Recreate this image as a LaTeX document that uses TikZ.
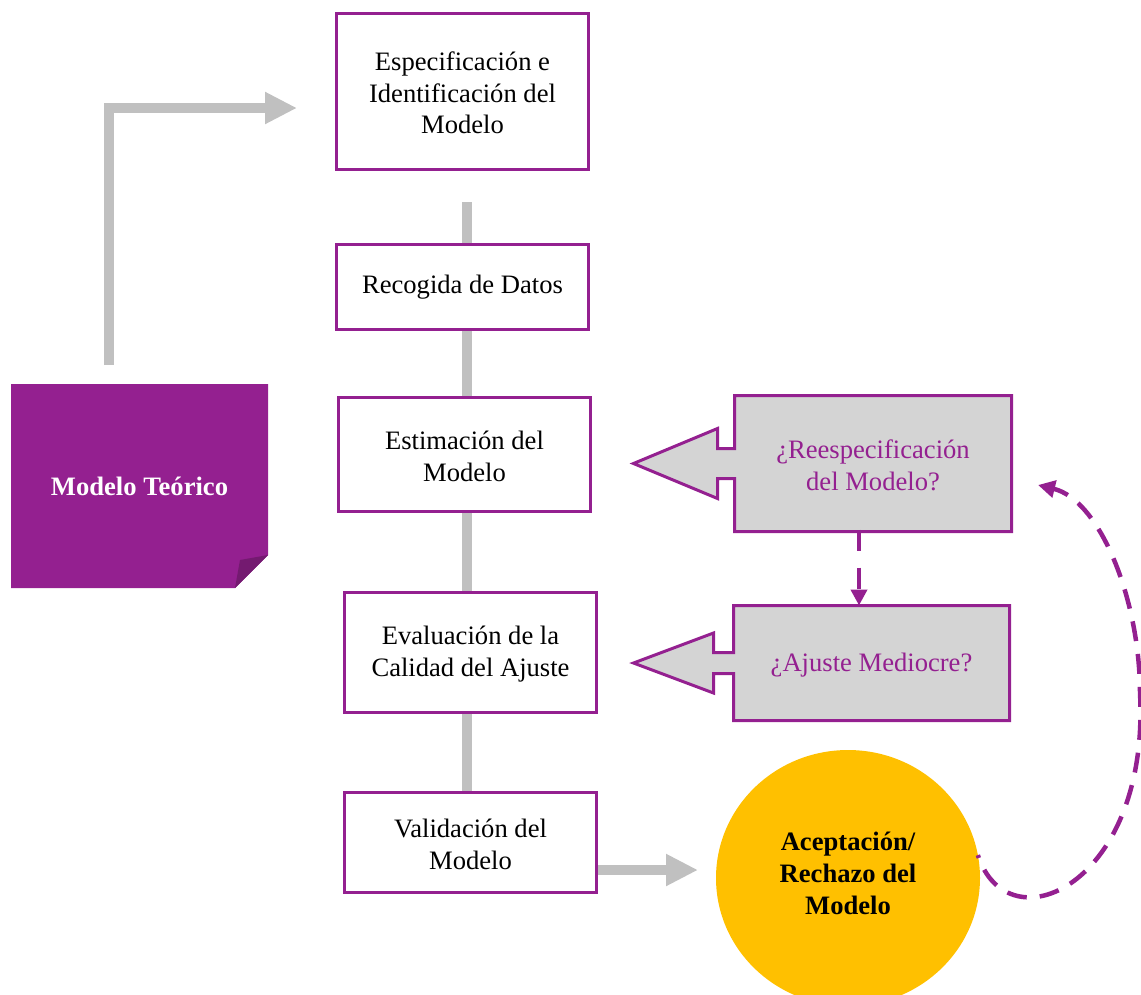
\documentclass[tikz,border=0pt]{standalone}
\usepackage{fontspec}
\setmainfont{Liberation Serif}
\usetikzlibrary{arrows.meta,calc,shapes.geometric}

\definecolor{plum}{RGB}{148,32,144}
\definecolor{plumdark}{RGB}{116,26,112}
\definecolor{flowgray}{RGB}{192,192,192}
\definecolor{calloutgray}{RGB}{212,212,212}
\definecolor{amber}{RGB}{255,192,0}

\begin{document}
\begin{tikzpicture}[x=1pt,y=-1pt,
  every node/.style={font=\fontsize{26.6}{31.5}\selectfont, align=center,
                     inner sep=0pt, outer sep=0pt},
  stage/.style={draw=plum, line width=3pt, fill=white, minimum width=252pt},
  flow/.style={draw=flowgray, line width=10pt},
  flowtip/.style={flow, line join=miter, -{Triangle[length=32pt,width=30pt]}},
  callout/.style={draw=plum, line width=3pt, fill=calloutgray, line join=miter},
  calltext/.style={text=plum},
  loopback/.style={draw=plum, line width=4.5pt, dash pattern=on 20pt off 13pt,
                   -{Triangle[length=17pt,width=17pt]}},
  shortdash/.style={draw=plum, line width=4.5pt, dash pattern=on 21pt off 17pt,
                   -{Triangle[length=16pt,width=16pt]}}
]
\useasboundingbox (0,0) rectangle (1141,994);
\clip (0,0) rectangle (1141,994);

% grey spine behind the chain of stages
\coordinate (spinetop) at (467,202);
\coordinate (vbottom) at (467,791);
\draw[flow] (spinetop) -- (vbottom);

% process stages
\node[stage, minimum height=156pt] (espec) at (462.5,91.5)
  {\strut Especificación e\\Identificación del\\Modelo};
\node[stage, minimum height=85pt] (recog) at (462.5,287) {\strut Recogida de Datos};
\node[stage, minimum height=114pt] (estim) at (464.5,454.5) {\strut Estimación del\\Modelo};
\node[stage, minimum height=120pt] (evalu) at (470.5,652.5)
  {\strut Evaluación de la\\Calidad del Ajuste};
\node[stage, minimum height=100pt] (valid) at (470.5,842.5) {\strut Validación del\\Modelo};

% theoretical model note with a folded corner
\node[minimum width=257pt, minimum height=204pt] (teo) at (139.5,486) {};
\fill[plum] (teo.north west) -- (teo.north east) -- ($(teo.south east)+(0,-33)$)
  -- ($(teo.south east)+(-33,0)$) -- (teo.south west) -- cycle;
\fill[plumdark] ($(teo.south east)+(0,-33)$) -- ($(teo.south east)+(-28,-28)$)
  -- ($(teo.south east)+(-33,0)$) -- cycle;
\node[text=white, font=\fontsize{26.6}{31.5}\selectfont\bfseries] (teotext) at (teo)
  {Modelo Teórico};

% L-shaped arrow from the note to the first stage
\coordinate (lfoot) at (109,365);
\coordinate (ltip) at (297,108);
\draw[flowtip] (lfoot) |- (ltip);

% callout: re-specification
\node[minimum width=277pt, minimum height=136pt] (reespbox) at (873,463.5) {};
\path[callout] (reespbox.north west) -- (reespbox.north east) -- (reespbox.south east)
  -- (reespbox.south west) -- ($(reespbox.west)+(0,15)$) -- ++(-17,0) -- ++(0,20)
  -- ($(reespbox.west)+(-101,0)$) -- ($(reespbox.west)+(-17,-35)$) -- ++(0,20)
  -- ($(reespbox.west)+(0,-15)$) -- cycle;
\node[calltext] (reesp) at ([yshift=-2pt]reespbox) {¿Reespecificación\\del Modelo?};

% callout: poor fit
\node[minimum width=276pt, minimum height=115pt] (ajustebox) at (871.5,663) {};
\path[callout] (ajustebox.north west) -- (ajustebox.north east) -- (ajustebox.south east)
  -- (ajustebox.south west) -- ($(ajustebox.west)+(0,10.5)$) -- ++(-20,0) -- ++(0,19.5)
  -- ($(ajustebox.west)+(-100,0)$) -- ($(ajustebox.west)+(-20,-30)$) -- ++(0,19.5)
  -- ($(ajustebox.west)+(0,-10.5)$) -- cycle;
\node[calltext] (ajuste) at ([yshift=-2pt]ajustebox) {¿Ajuste Mediocre?};

% dashed link between the two callouts
\draw[shortdash] ([xshift=-14pt,yshift=2pt]reespbox.south)
  -- ([xshift=-14pt]reespbox.south |- ajustebox.north);

% acceptance / rejection
\node[ellipse, fill=amber, minimum width=264pt, minimum height=256pt] (acc) at (848,878) {};
\node[font=\fontsize{26.6}{32}\selectfont\bfseries] (acctext) at ([yshift=5pt]acc)
  {Aceptación/\\Rechazo del\\Modelo};

% arrow from validation to decision
\coordinate (btip) at (698,870);
\draw[flowtip] ($(valid.east)+(1.5,27.5)$) -- (btip);

% dashed loop back to the re-specification callout
\coordinate (loopend) at (1038,485);
\draw[loopback, dash phase=17pt] (acc.10) .. controls (1008,948) and (1150,885) .. (1140,693)
  .. controls (1140,600) and (1100,500) .. (loopend);
\end{tikzpicture}
\end{document}
